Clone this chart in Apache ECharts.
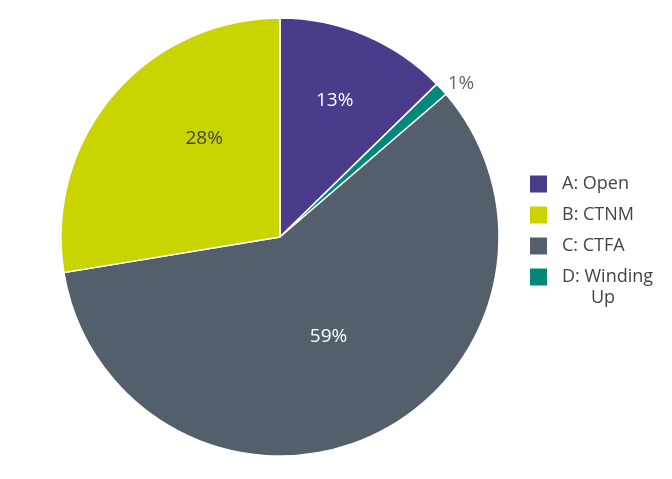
<!DOCTYPE html>
<html>
<head>
<meta charset="utf-8">
<script src="https://cdn.jsdelivr.net/npm/echarts@6/dist/echarts.min.js"></script>
<style>html,body{margin:0;padding:0;background:#fff}#c{width:672px;height:479px}</style>
</head>
<body>
<div id="c"></div>
<script>
const categories = ['A: Open', 'D: Winding Up', 'C: CTFA', 'B: CTNM'];
const values = [12.7, 1.0, 58.7, 27.6];
const labels = ['13%', '1%', '59%', '28%'];
const colors = ['#4a3b8b', '#00897b', '#535f6b', '#c9d400'];
const legendOrder = ['A: Open', 'B: CTNM', 'C: CTFA', 'D: Winding Up'];
const legendText = { 'D: Winding Up': 'D: Winding' };
const legendSecondLine = 'Up';

const labelShift = [[11, -33], [98, -77], [1, -2], [10, -26]];
const labelColor = ['#ffffff', '#666666', '#ffffff', '#444444'];

const chart = echarts.init(document.getElementById('c'));
chart.setOption({
  animation: false,
  textStyle: { fontFamily: 'Open Sans' },
  legend: {
    orient: 'vertical',
    left: 525,
    top: 170,
    itemWidth: 17,
    itemHeight: 17,
    itemGap: 13,
    icon: 'rect',
    itemStyle: { borderWidth: 0 },
    textStyle: { fontSize: 18, color: '#444', fontFamily: 'Open Sans', lineHeight: 17, padding: [0, 0, 0, 10] },
    data: legendOrder,
    formatter: n => legendText[n] || n
  },
  graphic: [{
    type: 'text',
    left: 591,
    top: 289,
    style: { text: legendSecondLine, fontSize: 18, fill: '#444', fontFamily: 'Open Sans' }
  }],
  series: [{
    type: 'pie',
    center: [280, 237],
    radius: 219,
    startAngle: 90,
    clockwise: true,
    avoidLabelOverlap: false,
    itemStyle: { borderColor: '#fff', borderWidth: 1.5 },
    label: { show: true, position: 'inside', fontSize: 19, fontFamily: 'Open Sans' },
    labelLine: { show: false },
    emphasis: { disabled: true },
    labelLayout: p => ({ dx: labelShift[p.dataIndex][0], dy: labelShift[p.dataIndex][1] }),
    data: categories.map((c, i) => ({
      name: c,
      value: values[i],
      itemStyle: { color: colors[i] },
      label: { formatter: labels[i], color: labelColor[i] }
    }))
  }]
});
</script>
</body>
</html>
